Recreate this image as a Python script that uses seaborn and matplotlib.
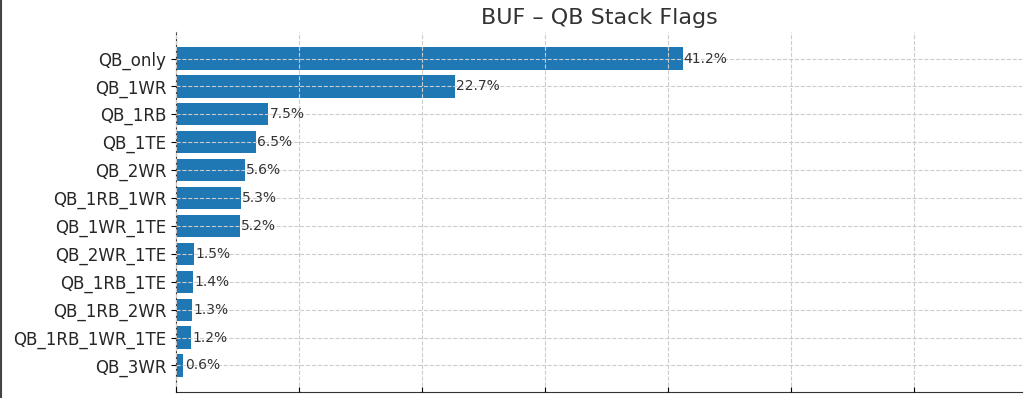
import matplotlib
matplotlib.use("Agg")
import matplotlib.pyplot as plt
from matplotlib.lines import Line2D
import pandas as pd
import seaborn as sns

# QB stack flag shares (%)
flags = ['QB_only', 'QB_1WR', 'QB_1RB', 'QB_1TE', 'QB_2WR', 'QB_1RB_1WR',
         'QB_1WR_1TE', 'QB_2WR_1TE', 'QB_1RB_1TE', 'QB_1RB_2WR',
         'QB_1RB_1WR_1TE', 'QB_3WR']
pct = [41.2, 22.7, 7.5, 6.5, 5.6, 5.3, 5.2, 1.5, 1.4, 1.3, 1.2, 0.6]

df = pd.DataFrame({'flag': flags, 'pct': pct})

fig = plt.figure(figsize=(10.24, 3.98), dpi=100)
ax = fig.add_axes([0.1719, 0.0151, 0.826, 0.9045])

sns.barplot(data=df, x='pct', y='flag', orient='h', color='#1f77b4',
            saturation=1, width=0.8, linewidth=0, ax=ax)

# 百分比标注
for i, v in enumerate(df['pct']):
    ax.text(v + 0.1, i, f"{v}%", va='center', ha='left', fontsize=10, color='#333333')

ax.set_xlim(0, 68.8)
ax.set_ylim(len(flags) - 1 + 0.95, -0.95)
ax.set_title('BUF – QB Stack Flags', fontsize=16, color='#333333')
ax.set_xlabel('')
ax.set_ylabel('')
ax.tick_params(axis='y', labelsize=12, labelcolor='#262626', length=3.5)
ax.tick_params(axis='x', direction='in', labelbottom=False, length=3.5)
ax.grid(True, linestyle='--', color='#cccccc', linewidth=0.8)
ax.set_axisbelow(False)
for s in ['top', 'right']:
    ax.spines[s].set_visible(False)
for s in ['left', 'bottom']:
    ax.spines[s].set_color('#333333')

# 左侧边框线
fig.add_artist(Line2D([0.001, 0.001], [0, 1], transform=fig.transFigure,
                      color='#444444', linewidth=1.5))

fig.savefig('out.png', dpi=100)
